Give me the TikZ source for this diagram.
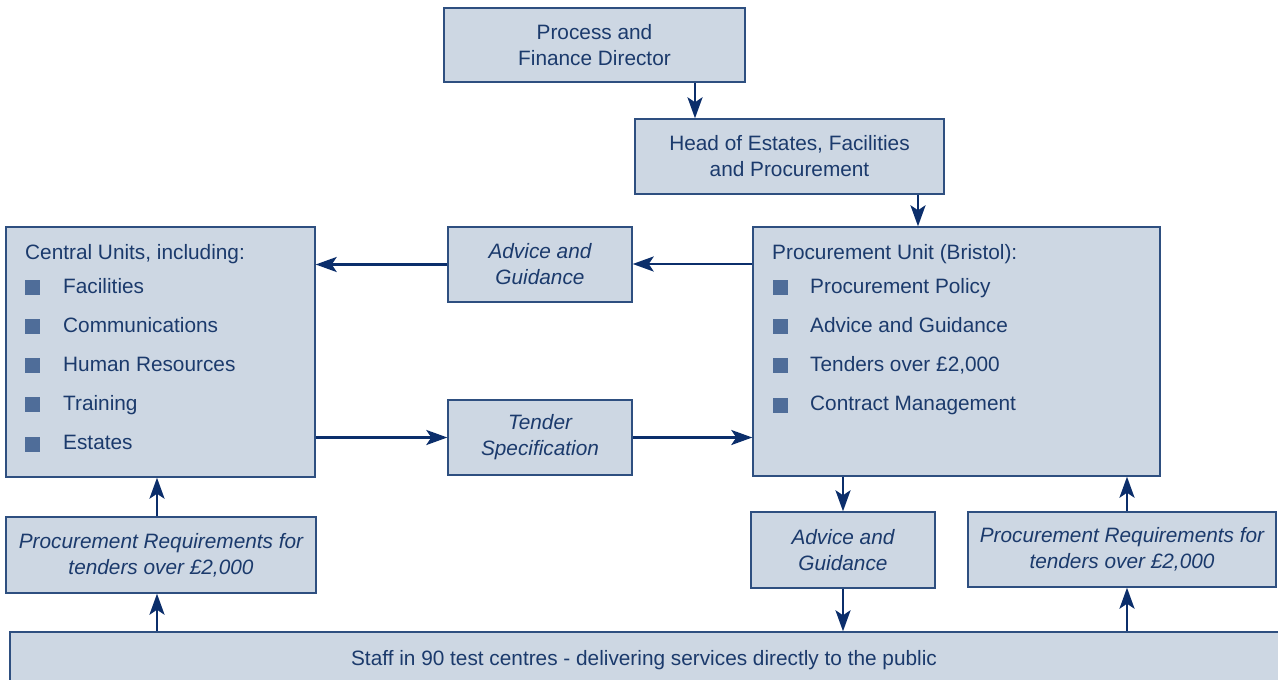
\documentclass[tikz,border=0pt]{standalone}
\usepackage{fontspec}
\setmainfont{Liberation Sans}
\usetikzlibrary{arrows.meta}
\definecolor{boxfill}{HTML}{CDD7E3}
\definecolor{boxline}{HTML}{2E4F80}
\definecolor{ink}{HTML}{1B3A6C}
\definecolor{arrowblue}{HTML}{0B2E6B}
\definecolor{bulletblue}{HTML}{4F6D99}
\tikzset{
  box/.style={draw=boxline, fill=boxfill, line width=1.4pt, inner sep=0pt,
    rectangle, text=ink, align=center,
    font=\fontsize{20.8}{26}\selectfont},
  plain/.style={box},
  itbox/.style={box, font=\fontsize{20.8}{26}\selectfont\itshape},
  listtext/.style={anchor=base west, inner sep=0pt, text=ink,
    font=\fontsize{20.8}{26}\selectfont},
  bullet/.style={fill=bulletblue, inner sep=0pt, minimum size=15pt},
  arr/.style={draw=arrowblue, line width=2.7pt,
    -{Stealth[length=21pt, width=15pt, inset=5pt]}},
}
\begin{document}
\begin{tikzpicture}[x=1pt, y=-1pt]
  \clip (0,0) rectangle (1278,680);
  \fill[white] (0,0) rectangle (1278,680);

  % top of the hierarchy
  \node[plain, minimum width=301pt, minimum height=74pt] (pfd) at (594.5,45)
    {Process and\\Finance Director};
  \node[plain, minimum width=309pt, minimum height=75pt] (head) at (789.5,156.5)
    {Head of Estates, Facilities\\and Procurement};

  % the two unit boxes
  \node[box, minimum width=309pt, minimum height=250pt] (cu) at (160.5,352) {};
  \node[box, minimum width=407pt, minimum height=249pt] (pu) at (956.5,351.5) {};

  % flows between the units
  \node[itbox, minimum width=184pt, minimum height=75pt] (adv1) at (540,264.5)
    {Advice and\\Guidance};
  \node[itbox, minimum width=184pt, minimum height=75pt] (tend) at (540,437.5)
    {Tender\\Specification};

  % lower row
  \node[itbox, minimum width=310pt, minimum height=76pt] (preqL) at (161,555)
    {Procurement Requirements for\\tenders over £2,000};
  \node[itbox, minimum width=184pt, minimum height=76pt] (adv2) at (843,550)
    {Advice and\\Guidance};
  \node[itbox, minimum width=308pt, minimum height=75pt] (preqR) at (1122,549.5)
    {Procurement Requirements for\\tenders over £2,000};

  % staff band along the bottom
  \node[box, minimum width=1280pt, minimum height=68pt] (staff) at (650,666) {};
  \node[listtext, anchor=base] (stafftxt) at (644,665)
    {Staff in 90 test centres - delivering services directly to the public};

  % Central Units list
  \node[listtext] (cuT) at (25,259) {Central Units, including:};
  \foreach \y/\t [count=\i] in {293/Facilities, 332/Communications,
      371/Human Resources, 410/Training, 449.5/Estates} {
    \node[bullet] (cub\i) at (32.5,\y-5.5) {};
    \node[listtext] (cut\i) at (63,\y) {\t};
  }

  % Procurement Unit list
  \node[listtext] (puT) at (772,259) {Procurement Unit (Bristol):};
  \foreach \y/\t [count=\i] in {293/Procurement Policy, 332/Advice and Guidance,
      371/Tenders over £2{,}000, 410.5/Contract Management} {
    \node[bullet] (pub\i) at (780,\y-5.5) {};
    \node[listtext] (put\i) at (810,\y) {\t};
  }

  % connectors
  \draw[arr] ([xshift=100.5pt]pfd.south) -- ([xshift=100.5pt]pfd.south |- head.north);
  \draw[arr] ([xshift=128.5pt]head.south) -- ([xshift=128.5pt]head.south |- pu.north);
  \draw[arr] ([yshift=87.5pt]pu.west) -- ([yshift=87.5pt]pu.west -| adv1.east);
  \draw[arr] (adv1.west) -- (adv1.west -| cu.east);
  \draw[arr] (cu.east |- tend.west) -- (tend.west);
  \draw[arr] (tend.east) -- (tend.east -| pu.west);
  \draw[arr] ([xshift=-4pt]preqL.north) -- ([xshift=-4pt]preqL.north |- cu.south);
  \draw[arr] ([xshift=-4pt]preqL.south |- staff.north) -- ([xshift=-4pt]preqL.south);
  \draw[arr] (pu.south -| adv2.north) -- (adv2.north);
  \draw[arr] (adv2.south) -- (adv2.south |- staff.north);
  \draw[arr] ([xshift=5pt]preqR.north) -- ([xshift=5pt]preqR.north |- pu.south);
  \draw[arr] ([xshift=5pt]preqR.south |- staff.north) -- ([xshift=5pt]preqR.south);
\end{tikzpicture}
\end{document}
